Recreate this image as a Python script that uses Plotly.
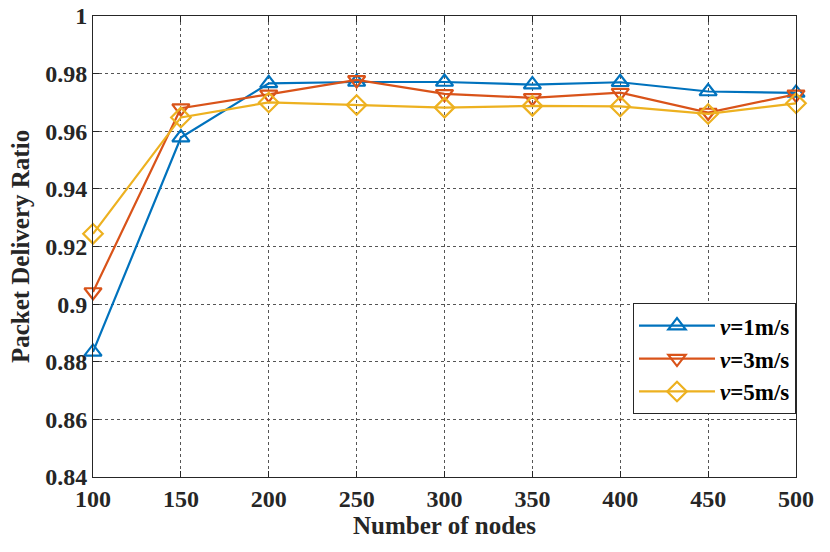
import plotly.graph_objects as go

nodes = [100, 150, 200, 250, 300, 350, 400, 450, 500]
pdr_v1 = [0.8834, 0.9578, 0.9766, 0.9771, 0.9771, 0.9762, 0.9770, 0.9738, 0.9733]
pdr_v3 = [0.9042, 0.9680, 0.9728, 0.9778, 0.9730, 0.9716, 0.9734, 0.9665, 0.9728]
pdr_v5 = [0.9244, 0.9648, 0.9700, 0.9691, 0.9682, 0.9688, 0.9686, 0.9660, 0.9697]

x_labels = ["100", "150", "200", "250", "300", "350", "400", "450", "500"]
y_ticks = [0.84, 0.86, 0.88, 0.9, 0.92, 0.94, 0.96, 0.98, 1]
y_labels = ["0.84", "0.86", "0.88", "0.9", "0.92", "0.94", "0.96", "0.98", "1"]

FONT = "Liberation Serif, Times New Roman, serif"
INK = "#262626"

series = [
    ("<b><i>v</i>=1m/s</b>", pdr_v1, "#0072BD", "triangle-up-open"),
    ("<b><i>v</i>=3m/s</b>", pdr_v3, "#D95319", "triangle-down-open"),
    ("<b><i>v</i>=5m/s</b>", pdr_v5, "#EDB120", "diamond-open"),
]

fig = go.Figure()
for name, vals, color, symbol in series:
    fig.add_trace(go.Scatter(
        x=nodes, y=vals, name=name, mode="lines+markers",
        line=dict(color=color, width=2.2),
        marker=dict(symbol=symbol, size=15, color=color, line=dict(color=color, width=2.2)),
        cliponaxis=False,
    ))

axis_common = dict(
    showline=True, linecolor=INK, linewidth=1, mirror="ticks",
    ticks="inside", ticklen=6, tickcolor=INK,
    showgrid=True, gridcolor="#555555", griddash="dot", gridwidth=1,
    zeroline=False, automargin=False, ticklabeloverflow="allow",
    tickfont=dict(family=FONT, size=24, color=INK),
)

fig.update_layout(
    width=830, height=552,
    margin=dict(l=93, r=34, t=16, b=75),
    paper_bgcolor="white", plot_bgcolor="white",
    font=dict(family=FONT, color=INK),
    xaxis=dict(
        range=[100, 500], tickvals=nodes,
        ticktext=[f"<b>{t}</b>" for t in x_labels],
        title=dict(text="<b>Number of nodes</b>", font=dict(family=FONT, size=25), standoff=2),
        **axis_common,
    ),
    yaxis=dict(
        range=[0.84, 1], tickvals=y_ticks,
        ticktext=[f"<b>{t}</b>" for t in y_labels],
        title=dict(text="<b>Packet Delivery Ratio</b>", font=dict(family=FONT, size=25), standoff=8),
        **axis_common,
    ),
    legend=dict(
        x=1, y=0.377, xanchor="right", yanchor="top",
        bgcolor="white", bordercolor=INK, borderwidth=1,
        font=dict(family=FONT, size=23, color="black"),
        tracegroupgap=0, itemwidth=76,
    ),
    showlegend=True,
)

# drop the default 8px body margin so the figure fills the window exactly
fig.write_html(
    "out.html",
    config={"displayModeBar": False},
    post_script="document.body.style.margin = '0';",
)
